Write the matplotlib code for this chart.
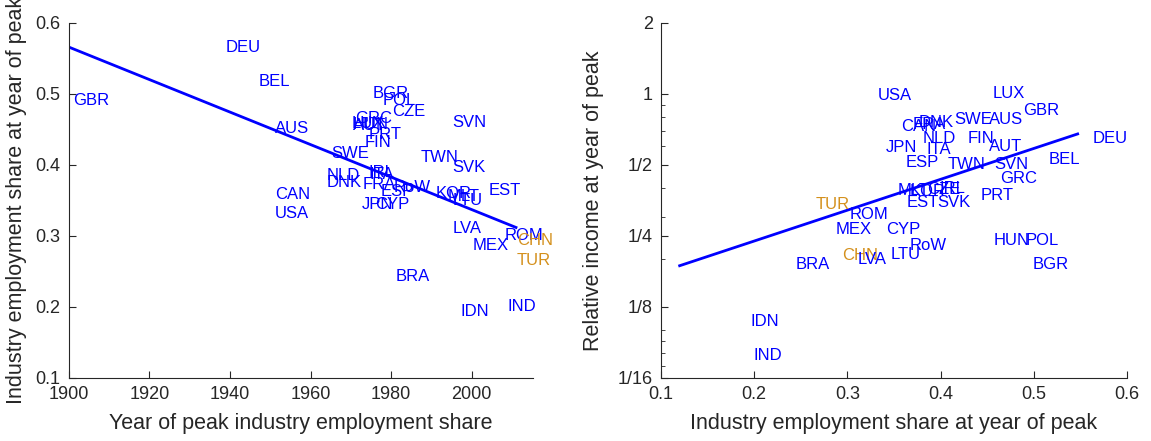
import matplotlib
matplotlib.use("Agg")
import matplotlib.pyplot as plt
from matplotlib.ticker import FixedLocator, NullFormatter

plt.rcParams['font.family'] = ['Liberation Sans', 'DejaVu Sans']

# Left panel: year of peak vs. industry employment share at peak
left_codes = ['GBR', 'DEU', 'BEL', 'AUS', 'CAN', 'USA', 'SWE', 'NLD', 'DNK',
              'IRL', 'ITA', 'FRA', 'ESP', 'RoW', 'JPN', 'CYP', 'KOR', 'MLT',
              'LTU', 'EST', 'SVN', 'TWN', 'SVK', 'BGR', 'POL', 'CZE', 'GRC',
              'LUX', 'HUN', 'AUT', 'PRT', 'FIN', 'LVA', 'MEX', 'ROM', 'CHN',
              'TUR', 'BRA', 'IDN', 'IND']
left_year = [1901, 1939, 1947.2, 1951.2, 1951.2, 1951.2, 1965.1, 1964.1, 1964.1,
             1974.5, 1974.6, 1973, 1977.3, 1980.7, 1972.6, 1976, 1991, 1994,
             1995.2, 2004.1, 1995.2, 1987.2, 1995.2, 1975.3, 1978, 1980.2, 1971,
             1970.3, 1970.5, 1970.4, 1974.3, 1973.5, 1995.3, 2000.3, 2008.3, 2011.2,
             2011.2, 1981.2, 1997.1, 2009]
left_share = [0.4915, 0.566, 0.517, 0.452, 0.359, 0.331, 0.4155, 0.385, 0.375,
              0.389, 0.386, 0.373, 0.362, 0.368, 0.344, 0.344, 0.36, 0.356,
              0.35, 0.364, 0.46, 0.41, 0.396, 0.5, 0.491, 0.476, 0.466,
              0.459, 0.457, 0.455, 0.443, 0.431, 0.31, 0.286, 0.301, 0.294,
              0.266, 0.243, 0.194, 0.2]
left_fit_year = [1900, 2011]
left_fit_share = [0.566, 0.312]

# Right panel: share at peak vs. relative income at peak
right_codes = ['USA', 'LUX', 'GBR', 'AUS', 'SWE', 'DNK', 'CAN', 'FRA', 'NLD',
               'FIN', 'JPN', 'ITA', 'AUT', 'ESP', 'TWN', 'SVN', 'BEL', 'DEU',
               'GRC', 'PRT', 'MLT', 'KOR', 'CZE', 'IRL', 'EST', 'SVK', 'ROM',
               'MEX', 'CYP', 'TUR', 'CHN', 'LVA', 'LTU', 'RoW', 'BRA', 'HUN',
               'POL', 'BGR', 'IDN', 'IND']
right_share = [0.332, 0.456, 0.489, 0.452, 0.415, 0.376, 0.358, 0.37, 0.381,
               0.429, 0.341, 0.385, 0.452, 0.362, 0.408, 0.458, 0.516, 0.563,
               0.464, 0.443, 0.354, 0.367, 0.386, 0.399, 0.364, 0.396, 0.302,
               0.287, 0.341, 0.266, 0.294, 0.311, 0.346, 0.367, 0.244, 0.457,
               0.491, 0.499, 0.196, 0.199]
right_income = [0.99, 1.0, 0.85, 0.78, 0.78, 0.76, 0.73, 0.74, 0.645,
                0.645, 0.592, 0.579, 0.6, 0.51, 0.5, 0.5, 0.53, 0.645,
                0.44, 0.371, 0.39, 0.385, 0.395, 0.398, 0.347, 0.347, 0.307,
                0.267, 0.267, 0.339, 0.206, 0.199, 0.208, 0.228, 0.189, 0.239,
                0.239, 0.19, 0.109, 0.078]
right_fit_share = [0.12, 0.547]
right_fit_income = [0.187, 0.677]

highlight = ['CHN', 'TUR']

BLUE = '#0000ff'
ORANGE = '#d4901c'
AXC = '#262626'


def style_axes(ax):
    for side in ['top', 'right']:
        ax.spines[side].set_visible(False)
    for side in ['left', 'bottom']:
        ax.spines[side].set_color(AXC)
        ax.spines[side].set_linewidth(0.8)
    ax.tick_params(which='both', direction='in', colors=AXC, labelsize=13, pad=6)
    ax.tick_params(which='major', length=5)
    ax.tick_params(which='minor', length=3)


def label_points(ax, codes, xs, ys):
    for c, x, y in zip(codes, xs, ys):
        col = ORANGE if c in highlight else BLUE
        ax.text(x, y, c, ha='left', va='center', color=col, fontsize=12)


fig = plt.figure(figsize=(11.51, 4.41), dpi=100)

ax1 = fig.add_axes([0.0599, 0.1429, 0.4031, 0.805])
label_points(ax1, left_codes, left_year, left_share)
ax1.plot(left_fit_year, left_fit_share, color=BLUE, lw=2)
ax1.set_xlim(1900, 2015.2)
ax1.set_ylim(0.1, 0.6)
ax1.set_xticks([1900, 1920, 1940, 1960, 1980, 2000])
ax1.set_yticks([0.1, 0.2, 0.3, 0.4, 0.5, 0.6])
ax1.set_xlabel('Year of peak industry employment share', fontsize=15.5,
               color=AXC, labelpad=7)
ax1.set_ylabel('Industry employment share at year of peak', fontsize=15.5,
               color=AXC, labelpad=6)
style_axes(ax1)

ax2 = fig.add_axes([0.5743, 0.1429, 0.4049, 0.805])
label_points(ax2, right_codes, right_share, right_income)
ax2.plot(right_fit_share, right_fit_income, color=BLUE, lw=2)
ax2.set_yscale('log', base=2)
ax2.set_xlim(0.1, 0.6)
ax2.set_ylim(1 / 16, 2)
ax2.set_xticks([0.1, 0.2, 0.3, 0.4, 0.5, 0.6])
ax2.set_yticks([1 / 16, 1 / 8, 1 / 4, 1 / 2, 1, 2])
ax2.set_yticklabels(['1/16', '1/8', '1/4', '1/2', '1', '2'])
ax2.yaxis.set_minor_locator(FixedLocator([0.07, 0.08, 0.09, 0.1, 0.2, 0.3, 0.4,
                                          0.6, 0.7, 0.8, 0.9]))
ax2.yaxis.set_minor_formatter(NullFormatter())
ax2.set_xlabel('Industry employment share at year of peak', fontsize=15.5,
               color=AXC, labelpad=7)
ax2.set_ylabel('Relative income at year of peak', fontsize=15.5,
               color=AXC, labelpad=10)
style_axes(ax2)

fig.savefig('out.png', dpi=100)
